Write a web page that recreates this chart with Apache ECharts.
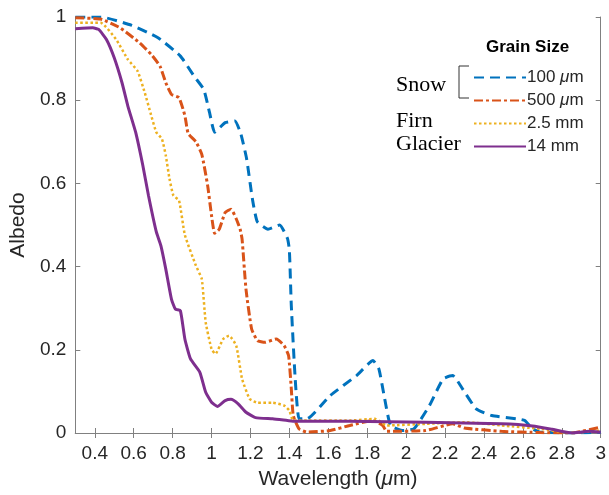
<!DOCTYPE html>
<html>
<head>
<meta charset="utf-8">
<script src="https://cdn.jsdelivr.net/npm/echarts@6/dist/echarts.min.js"></script>
<style>
    html, body { margin: 0; padding: 0; background: #fff; }
    #chart { width: 609px; height: 495px; }
</style>
</head>
<body>
<div id="chart"></div>
<script>
    'use strict';

    // tick labels
    const xTicks = [0.4, 0.6, 0.8, 1, 1.2, 1.4, 1.6, 1.8, 2, 2.2, 2.4, 2.6, 2.8, 3];

    // legend names
    const sizes = ['100 {i|μ}m', '500 {i|μ}m', '2.5 mm', '14 mm'];

    // [wavelength (um), albedo]
    const snow100 = [
        [0.3, 1.0], [0.43, 1.0], [0.59, 0.98], [0.725, 0.95], [0.84, 0.906], [0.91, 0.858],
        [0.96, 0.826], [0.99, 0.77], [1.016, 0.723], [1.07, 0.746], [1.12, 0.75], [1.15, 0.72],
        [1.18, 0.66], [1.21, 0.563], [1.235, 0.508], [1.29, 0.49], [1.35, 0.5], [1.39, 0.468],
        [1.4, 0.44], [1.41, 0.306], [1.43, 0.13], [1.45, 0.034], [1.49, 0.034], [1.61, 0.09],
        [1.745, 0.138], [1.83, 0.174], [1.86, 0.154], [1.89, 0.082], [1.92, 0.018], [1.98, 0.006],
        [2.04, 0.01], [2.12, 0.066], [2.19, 0.13], [2.24, 0.138], [2.29, 0.106], [2.36, 0.058],
        [2.44, 0.042], [2.57, 0.034], [2.61, 0.03], [2.65, 0.01], [2.69, 0.002], [2.85, 0.0],
        [3.0, 0.002]
    ];
    const snow500 = [
        [0.3, 0.998], [0.43, 0.995], [0.53, 0.974], [0.63, 0.938], [0.69, 0.91], [0.735, 0.882],
        [0.765, 0.842], [0.794, 0.814], [0.833, 0.806], [0.863, 0.763], [0.88, 0.72], [0.92, 0.7],
        [0.95, 0.67], [0.98, 0.595], [1.0, 0.523], [1.016, 0.48], [1.04, 0.49], [1.07, 0.53],
        [1.1, 0.538], [1.127, 0.515], [1.147, 0.49], [1.157, 0.466], [1.177, 0.346], [1.206, 0.25],
        [1.236, 0.222], [1.275, 0.218], [1.333, 0.226], [1.373, 0.21], [1.396, 0.186], [1.41, 0.106],
        [1.42, 0.042], [1.45, 0.01], [1.49, 0.002], [1.61, 0.006], [1.71, 0.018], [1.83, 0.03],
        [1.88, 0.018], [1.9, 0.004], [2.1, 0.006], [2.24, 0.022], [2.3, 0.012], [2.49, 0.004],
        [2.69, 0.001], [2.85, 0.0], [3.0, 0.014]
    ];
    const firn = [
        [0.3, 0.986], [0.43, 0.986], [0.51, 0.946], [0.57, 0.898], [0.62, 0.87], [0.657, 0.818],
        [0.686, 0.77], [0.716, 0.723], [0.745, 0.707], [0.765, 0.667], [0.784, 0.611], [0.804, 0.571],
        [0.833, 0.559], [0.863, 0.476], [0.92, 0.402], [0.95, 0.37], [0.97, 0.266], [1.0, 0.202],
        [1.02, 0.19], [1.06, 0.226], [1.09, 0.234], [1.127, 0.21], [1.157, 0.13], [1.196, 0.082],
        [1.236, 0.073], [1.314, 0.073], [1.373, 0.066], [1.4, 0.054], [1.42, 0.03], [1.49, 0.03],
        [1.71, 0.03], [1.84, 0.034], [1.9, 0.018], [2.1, 0.022], [2.3, 0.026], [2.49, 0.018],
        [2.69, 0.01], [2.85, 0.0], [3.0, 0.006]
    ];
    const glacier = [
        [0.3, 0.972], [0.39, 0.974], [0.42, 0.97], [0.46, 0.946], [0.5, 0.902], [0.54, 0.842],
        [0.57, 0.786], [0.61, 0.723], [0.647, 0.643], [0.676, 0.571], [0.716, 0.484], [0.74, 0.45],
        [0.765, 0.394], [0.794, 0.322], [0.814, 0.298], [0.84, 0.294], [0.863, 0.226], [0.892, 0.178],
        [0.94, 0.146], [0.97, 0.098], [1.0, 0.074], [1.03, 0.064], [1.07, 0.078], [1.1, 0.081],
        [1.137, 0.07], [1.177, 0.05], [1.226, 0.037], [1.314, 0.034], [1.39, 0.03], [1.43, 0.028],
        [1.71, 0.028], [2.1, 0.026], [2.49, 0.022], [2.65, 0.017], [2.75, 0.009], [2.85, 0.0],
        [2.94, 0.004], [3.0, 0.002]
    ];

    const colors = ['#0072BD', '#D95319', '#EDB120', '#7E2F8E'];
    const AXC = '#808080';
    const TXT = '#262626';
    const SANS = 'Liberation Sans';

    function mkLine(name, data, color, type, width) {
        return {
            name: name,
            type: 'line',
            data: data,
            showSymbol: false,
            symbol: 'none',
            smooth: 0.15,
            color: color,
            lineStyle: { color: color, width: width, type: type },
            emphasis: { disabled: true },
            z: 3
        };
    }

    const chart = echarts.init(document.getElementById('chart'));

    chart.setOption({
        animation: false,
        textStyle: { fontFamily: SANS, color: TXT },
        grid: { left: 72, right: 7, top: 17, bottom: 61 },
        xAxis: [{
            type: 'value', min: 0.3, max: 3,
            name: 'Wavelength ({i|μ}m)', nameLocation: 'middle', nameGap: 36,
            nameTextStyle: { fontSize: 21, color: TXT, fontFamily: SANS, rich: { i: { fontStyle: 'italic', fontSize: 21, fontFamily: SANS } } },
            axisLine: { lineStyle: { color: AXC, width: 1 } },
            axisTick: { inside: true, length: 5, customValues: xTicks, lineStyle: { color: AXC } },
            axisLabel: { customValues: xTicks, fontSize: 19, color: TXT, margin: 11 },
            splitLine: { show: false }
        }, {
            type: 'value', min: 0.3, max: 3, position: 'top',
            axisLine: { lineStyle: { color: AXC, width: 1 } },
            axisTick: { inside: true, length: 5, customValues: xTicks, lineStyle: { color: AXC } },
            axisLabel: { show: false },
            splitLine: { show: false }
        }],
        yAxis: [{
            type: 'value', min: 0, max: 1, interval: 0.2,
            name: 'Albedo', nameLocation: 'middle', nameGap: 44,
            nameTextStyle: { fontSize: 21, color: TXT, fontFamily: SANS },
            axisLine: { show: true, lineStyle: { color: AXC, width: 1 } },
            axisTick: { show: true, inside: true, length: 5, lineStyle: { color: AXC } },
            axisLabel: { fontSize: 19, color: TXT, margin: 9 },
            splitLine: { show: false }
        }, {
            type: 'value', min: 0, max: 1, interval: 0.2, position: 'right',
            axisLine: { show: true, lineStyle: { color: AXC, width: 1 } },
            axisTick: { show: true, inside: true, length: 5, lineStyle: { color: AXC } },
            axisLabel: { show: false },
            splitLine: { show: false }
        }],
        legend: {
            orient: 'vertical',
            left: 468, top: 64,
            itemWidth: 52, itemHeight: 16, itemGap: 6,
            selectedMode: false,
            itemStyle: { opacity: 0 },
            textStyle: { fontSize: 17, color: TXT, fontFamily: SANS, padding: [0, 0, 0, -4], rich: { i: { fontStyle: 'italic', fontSize: 17, fontFamily: SANS } } },
            data: sizes
        },
        series: [
            mkLine(sizes[0], snow100, colors[0], [10, 6], 3),
            mkLine(sizes[1], snow500, colors[1], [9, 3, 3, 3], 3),
            mkLine(sizes[2], firn, colors[2], [2.5, 2.5], 2.5),
            mkLine(sizes[3], glacier, colors[3], 'solid', 3)
        ],
        graphic: [
            { type: 'text', left: 486, top: 39, style: { text: 'Grain Size', font: 'bold 17px "Liberation Sans"', fill: '#000' } },
            { type: 'text', left: 396, top: 74, style: { text: 'Snow', font: '22px "Liberation Serif"', fill: '#000' } },
            { type: 'text', left: 396, top: 110, style: { text: 'Firn', font: '22px "Liberation Serif"', fill: '#000' } },
            { type: 'text', left: 396, top: 133, style: { text: 'Glacier', font: '22px "Liberation Serif"', fill: '#000' } },
            { type: 'polyline', shape: { points: [[469, 66], [459, 66], [459, 98], [469, 98]] }, style: { stroke: '#333', lineWidth: 1, fill: null } }
        ]
    });
</script>
</body>
</html>
